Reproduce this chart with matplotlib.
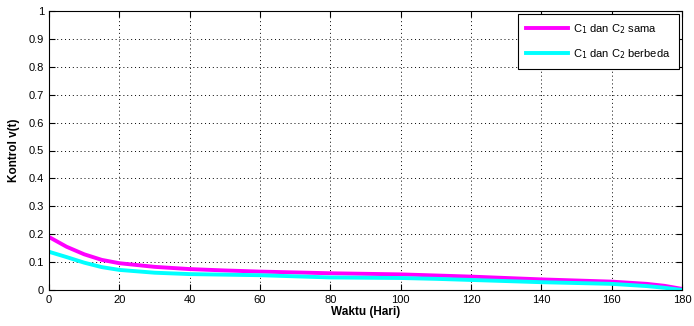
import numpy as np
import matplotlib.pyplot as plt

plt.rcParams['font.family'] = ['Liberation Sans', 'DejaVu Sans']

# waktu (hari) and control values
t = [0, 5, 10, 15, 20, 30, 40, 50, 60, 70, 80, 90, 100, 110, 120, 130, 140, 150, 160, 170, 175, 180]
v_sama = [0.19, 0.155, 0.128, 0.108, 0.096, 0.083, 0.075, 0.07, 0.066, 0.063, 0.06, 0.058, 0.056, 0.052, 0.048, 0.043, 0.038, 0.034, 0.03, 0.022, 0.015, 0.004]
v_beda = [0.137, 0.118, 0.098, 0.082, 0.072, 0.062, 0.057, 0.055, 0.053, 0.049, 0.045, 0.044, 0.043, 0.04, 0.036, 0.032, 0.028, 0.025, 0.022, 0.014, 0.008, 0.0]

fig = plt.figure(figsize=(6.94, 3.26), dpi=100)
ax = fig.add_axes([49/694, 36/326, 633/694, 279/326])

ax.plot(t, v_sama, color='#ff00ff', lw=2.8, label='C$_1$ dan C$_2$ sama')
ax.plot(t, v_beda, color='#00ffff', lw=2.8, label='C$_1$ dan C$_2$ berbeda')

ax.set_xlim(0, 180)
ax.set_ylim(0, 1)
ax.set_xticks(np.arange(0, 181, 20))
ax.set_yticks(np.arange(0, 1.01, 0.1))
ax.set_yticklabels(['0', '0.1', '0.2', '0.3', '0.4', '0.5', '0.6', '0.7', '0.8', '0.9', '1'])
ax.tick_params(direction='in', labelsize=8, length=4, top=True, right=True)
ax.grid(True, linestyle=(0, (1, 3)), color='black', linewidth=0.7)
for s in ax.spines.values():
    s.set_linewidth(0.8)

ax.set_xlabel('Waktu (Hari)', fontsize=8.5, fontweight='bold', labelpad=1)
ax.set_ylabel('Kontrol v(t)', fontsize=8.5, fontweight='bold', labelpad=6)

leg = ax.legend(loc='upper right', fontsize=8, fancybox=False, framealpha=1,
                edgecolor='black', handlelength=3.8, handletextpad=0.5,
                borderpad=0.7, labelspacing=1.0, borderaxespad=0.3)
leg.get_frame().set_linewidth(0.8)

fig.savefig('out.png', dpi=100)
